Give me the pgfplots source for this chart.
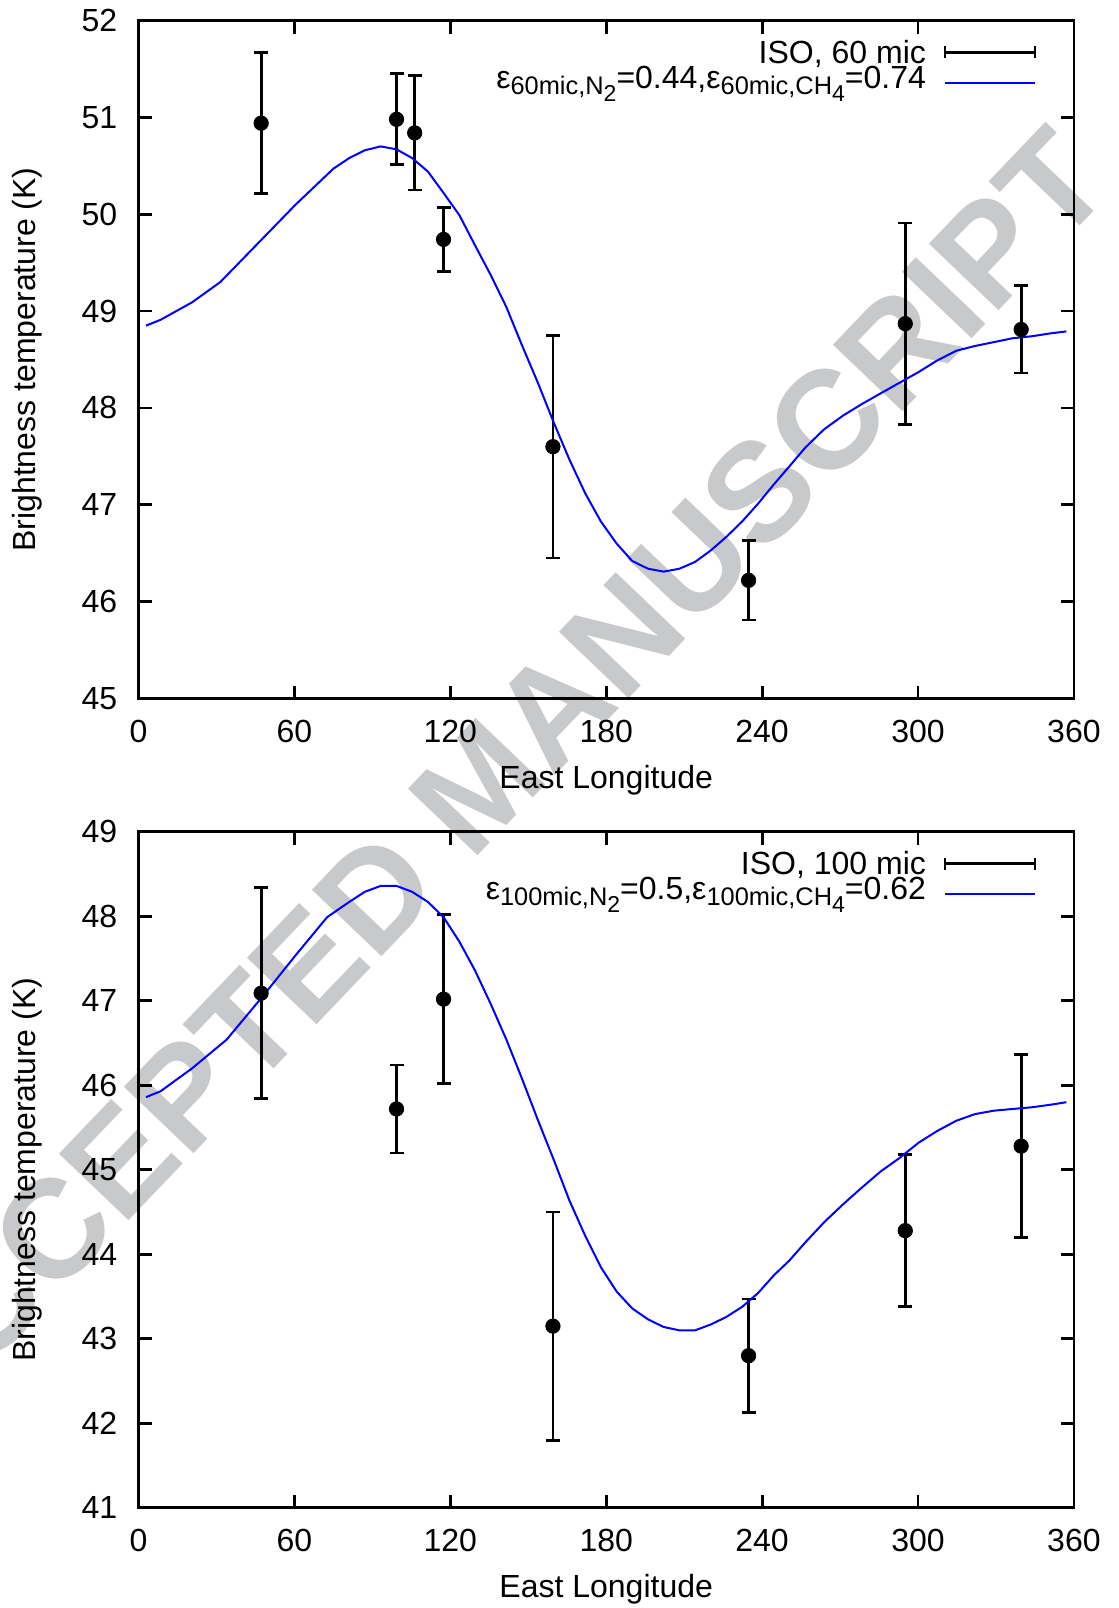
\documentclass[border=0pt]{standalone}
\usepackage{fontspec}
\setmainfont{Liberation Sans}
\usepackage{pgfplots}
\pgfplotsset{compat=1.18}
\definecolor{wmgray}{RGB}{200,201,203}
\newcommand\sba[1]{\raisebox{-3.3pt}{\fontsize{12.7}{12.7}\selectfont #1}}
\newcommand\sbb[1]{\raisebox{-3.4pt}{\fontsize{11.5}{11.5}\selectfont #1}}
\pgfplotsset{
  gp/.style={
    scale only axis, width=467.7pt,
    xmin=0, xmax=360, xtick={0,60,...,360},
    tick align=inside, major tick length=6.5pt,
    axis line style={line width=1.4pt},
    tick style={black, line width=1.4pt},
    tick label style={font=\fontsize{16}{16}\selectfont, /pgf/number format/assume math mode=true},
    yticklabel style={inner sep=0pt, anchor=east, xshift=-10.5pt},
    xticklabel style={inner sep=0pt, anchor=north, yshift=-10.5pt},
    label style={font=\fontsize{16}{16}\selectfont, inner sep=0pt},
    xlabel={East Longitude},
    ylabel={Brightness temperature (K)},
    ylabel style={at={(axis description cs:-0.1190,0.5)}, anchor=center},
    legend plot pos=right, legend cell align=right,
    legend style={at={(1,1)}, anchor=north east, xshift=-18.5pt, yshift=-12.0pt,
      draw=none, fill=none, inner sep=0pt, column sep=9.0pt, row sep=0pt,
      nodes={inner sep=0pt, text height=8.2pt, text depth=4.2pt, font=\fontsize{16}{16}\selectfont}},
  },
  databar/.style={black, only marks, mark=*, mark size=3.6pt, mark options={fill=black},
    legend image code/.code={\draw[black,line width=1.3pt] (0pt,3.5pt)--(45pt,3.5pt) (0pt,0.5pt)--(0pt,6.5pt) (45pt,0.5pt)--(45pt,6.5pt);},
    error bars/.cd, y dir=both, y explicit,
    error bar style={line width=1.4pt, black},
    error mark options={rotate=90, line width=1.4pt, mark size=3.5pt, black}},
  model/.style={blue, line width=1pt, no marks,
    legend image code/.code={\draw[blue,line width=1pt] (0pt,0.6pt)--(45pt,0.6pt);}},
}
\begin{document}
\begin{tikzpicture}
\useasboundingbox (0pt,-804pt) rectangle (559.5pt,0pt);
\node[rotate=46.3, text=wmgray, font=\fontsize{70}{70}\selectfont\bfseries, inner sep=0pt, anchor=center] at (240pt,-392pt) {ACCEPTED MANUSCRIPT};

\begin{axis}[gp, at={(69.25pt,-10.25pt)}, anchor=north west, height=339pt,
  ymin=45, ymax=52, ytick={45,46,...,52},
  xlabel style={at={(axis description cs:0.5,-0.13245)}, anchor=base}]
\addplot[databar] table[x=x, y=y, y error=e] {
x y e
47.2 50.94 0.73
99.3 50.98 0.47
106.3 50.84 0.59
117.4 49.74 0.33
159.5 47.60 1.15
234.8 46.22 0.41
295.1 48.87 1.04
339.7 48.81 0.45
};
\addlegendentry{ISO, 60 mic}
\addplot[model] coordinates {
(2.9,48.85) (8.5,48.91) (20.6,49.09) (31.5,49.30) (46.0,49.70) (60.5,50.10)
(75.0,50.47) (81.1,50.58) (87.1,50.66) (93.2,50.70) (99.3,50.67) (105.3,50.58)
(111.4,50.44) (117.4,50.22) (123.5,49.99) (129.5,49.68) (135.6,49.37) (141.6,49.04)
(147.7,48.64) (153.7,48.26) (159.8,47.85) (165.8,47.47) (171.9,47.12) (177.9,46.83)
(184.0,46.60) (190.0,46.42) (196.1,46.34) (202.1,46.31) (208.2,46.34) (214.2,46.41)
(220.3,46.53) (226.3,46.67) (232.4,46.83) (238.4,47.01) (244.5,47.21) (250.6,47.40)
(256.6,47.59) (263.9,47.78) (271.1,47.92) (278.4,48.04) (285.6,48.15) (292.9,48.26)
(300.2,48.37) (307.4,48.49) (314.7,48.59) (322.0,48.64) (329.3,48.68) (336.5,48.72)
(343.8,48.74) (351.0,48.77) (357.1,48.79)
};
\addlegendentry{ε\sba{60mic,N\sbb{2}}=0.44,ε\sba{60mic,CH\sbb{4}}=0.74}
\end{axis}

\begin{axis}[gp, at={(69.25pt,-415.9pt)}, anchor=north west, height=338pt,
  ymin=41, ymax=49, ytick={41,42,...,49},
  xlabel style={at={(axis description cs:0.5,-0.13284)}, anchor=base}]
\addplot[databar] table[x=x, y=y, y error=e] {
x y e
47.2 47.09 1.25
99.3 45.72 0.52
117.4 47.02 1.00
159.5 43.15 1.35
234.8 42.80 0.67
295.1 44.28 0.90
339.7 45.28 1.08
};
\addlegendentry{ISO, 100 mic}
\addplot[model] coordinates {
(2.9,45.86) (8.5,45.93) (20.6,46.20) (33.9,46.54) (47.2,47.03) (60.5,47.54)
(72.6,47.99) (81.1,48.17) (87.1,48.29) (93.2,48.36) (99.3,48.36) (105.3,48.29)
(111.4,48.17) (117.4,47.99) (123.5,47.70) (129.5,47.36) (135.6,46.96) (141.6,46.54)
(147.7,46.07) (153.7,45.59) (159.8,45.12) (165.8,44.64) (171.9,44.22) (177.9,43.85)
(184.0,43.56) (190.0,43.36) (196.1,43.23) (202.1,43.14) (208.2,43.10) (214.2,43.10)
(220.3,43.17) (226.3,43.26) (232.4,43.38) (238.4,43.54) (244.5,43.75) (250.6,43.93)
(256.6,44.14) (263.9,44.38) (271.1,44.59) (278.4,44.79) (285.6,44.98) (292.9,45.14)
(300.2,45.32) (307.4,45.46) (314.7,45.58) (322.0,45.66) (329.3,45.70) (336.5,45.72)
(343.8,45.74) (351.0,45.77) (357.1,45.80)
};
\addlegendentry{ε\sba{100mic,N\sbb{2}}=0.5,ε\sba{100mic,CH\sbb{4}}=0.62}
\end{axis}
\end{tikzpicture}
\end{document}
